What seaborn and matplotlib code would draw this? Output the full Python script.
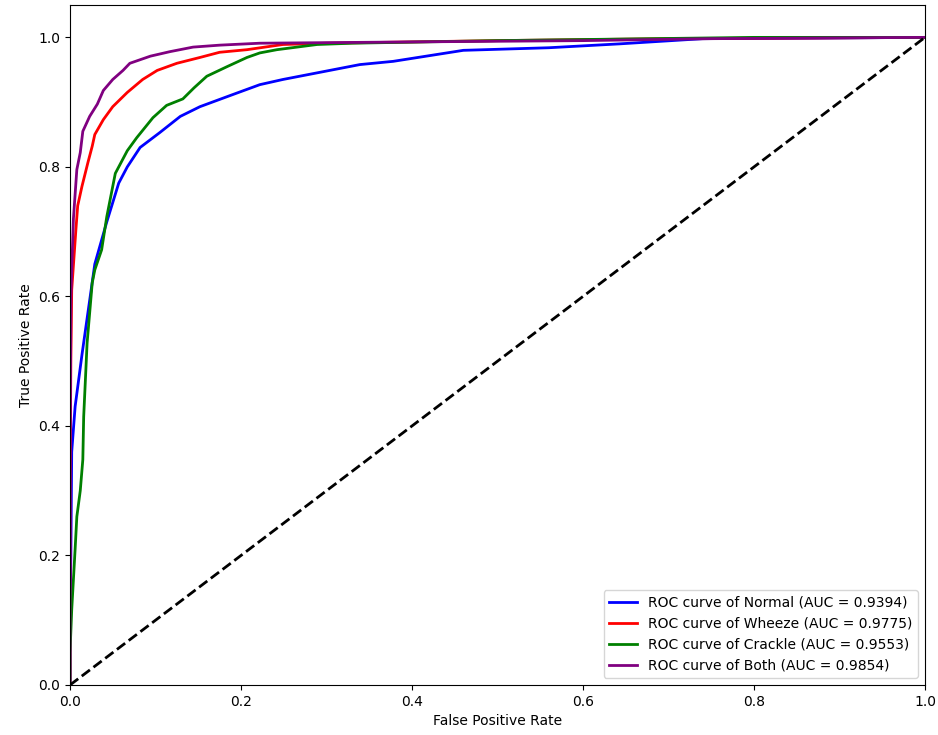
import matplotlib
matplotlib.use("Agg")
import matplotlib.pyplot as plt
import seaborn as sns
import pandas as pd

classes = ["Normal", "Wheeze", "Crackle", "Both"]
aucs = [0.9394, 0.9775, 0.9553, 0.9854]
colors = ["blue", "red", "green", "purple"]

fpr_normal = [0, 0.0, 0.001, 0.002, 0.006, 0.014, 0.029, 0.043, 0.050, 0.057, 0.067, 0.082, 0.105, 0.129, 0.152, 0.191, 0.222, 0.249, 0.339, 0.378, 0.46, 0.56, 0.643, 0.74, 1.0]
tpr_normal = [0, 0.1, 0.2, 0.36, 0.43, 0.51, 0.65, 0.715, 0.745, 0.775, 0.8, 0.83, 0.853, 0.878, 0.893, 0.912, 0.927, 0.935, 0.958, 0.963, 0.98, 0.984, 0.99, 0.998, 1.0]

fpr_wheeze = [0, 0.0, 0.001, 0.002, 0.007, 0.009, 0.014, 0.021, 0.026, 0.029, 0.039, 0.050, 0.067, 0.085, 0.102, 0.125, 0.152, 0.175, 0.207, 0.249, 0.3, 0.5, 0.7, 1.0]
tpr_wheeze = [0, 0.3, 0.5, 0.61, 0.705, 0.74, 0.77, 0.807, 0.832, 0.85, 0.873, 0.893, 0.915, 0.935, 0.949, 0.96, 0.969, 0.977, 0.981, 0.989, 0.991, 0.995, 0.998, 1.0]

fpr_crackle = [0, 0.0, 0.002, 0.006, 0.008, 0.012, 0.015, 0.016, 0.020, 0.026, 0.029, 0.037, 0.043, 0.053, 0.067, 0.078, 0.097, 0.113, 0.132, 0.145, 0.160, 0.184, 0.207, 0.222, 0.242, 0.289, 0.33, 0.5, 0.8, 1.0]
tpr_crackle = [0, 0.05, 0.116, 0.21, 0.26, 0.30, 0.348, 0.414, 0.528, 0.621, 0.641, 0.672, 0.723, 0.79, 0.825, 0.845, 0.876, 0.895, 0.905, 0.922, 0.94, 0.955, 0.969, 0.976, 0.981, 0.989, 0.991, 0.995, 1.0, 1.0]

fpr_both = [0, 0.0, 0.001, 0.004, 0.008, 0.012, 0.015, 0.023, 0.032, 0.039, 0.050, 0.062, 0.070, 0.094, 0.117, 0.144, 0.175, 0.222, 0.4, 0.6, 0.75, 1.0]
tpr_both = [0, 0.3, 0.6, 0.72, 0.796, 0.822, 0.855, 0.878, 0.897, 0.918, 0.935, 0.949, 0.96, 0.971, 0.978, 0.985, 0.988, 0.991, 0.993, 0.995, 0.998, 1.0]

fprs = [fpr_normal, fpr_wheeze, fpr_crackle, fpr_both]
tprs = [tpr_normal, tpr_wheeze, tpr_crackle, tpr_both]

fig = plt.figure(figsize=(9.38, 7.35), dpi=100)
ax = fig.add_axes([70/938, 1-685/735, 855/938, 680/735])

for cls, auc, col, fp, tp in zip(classes, aucs, colors, fprs, tprs):
    df = pd.DataFrame({"fpr": fp, "tpr": tp})
    sns.lineplot(data=df, x="fpr", y="tpr", sort=False, estimator=None,
                 color=col, lw=2, ax=ax,
                 label=f"ROC curve of {cls} (AUC = {auc:.4f})")

diag = pd.DataFrame({"x": [0, 1], "y": [0, 1]})
sns.lineplot(data=diag, x="x", y="y", color="black", lw=2, ax=ax, linestyle="--")

ax.set_xlim(0.0, 1.0)
ax.set_ylim(0.0, 1.05)
ax.set_xlabel("False Positive Rate")
ax.set_ylabel("True Positive Rate")
ax.legend(loc="lower right")
fig.savefig("out.png", dpi=100)
